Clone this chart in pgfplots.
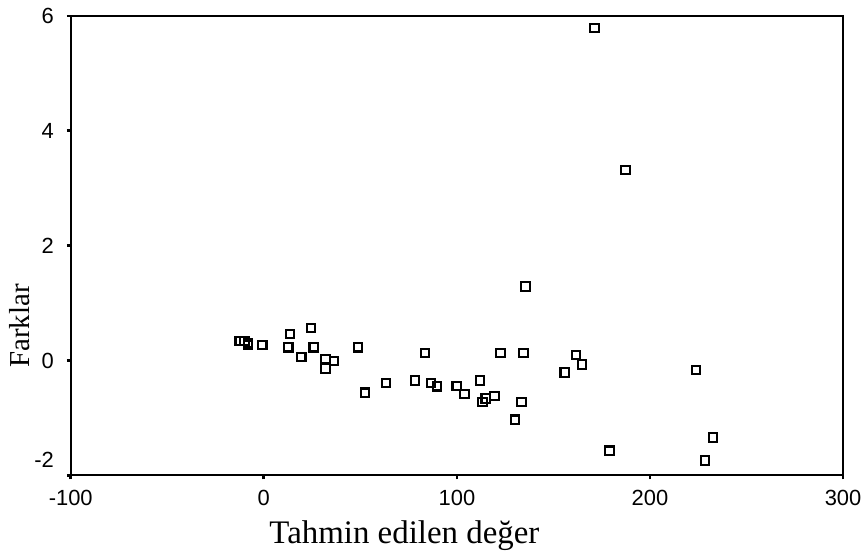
\documentclass[border=0pt]{standalone}
\usepackage{pgfplots}
\pgfplotsset{compat=1.18}
\usepackage{fontspec}
\setmainfont{Liberation Serif}
\newfontfamily\arial{Liberation Sans}
\begin{document}
\begin{tikzpicture}
\begin{axis}[
  scale only axis,
  width=387.5pt, height=230.5pt,
  at={(0,0)}, anchor=south west,
  xmin=-100, xmax=300, ymin=-2, ymax=6,
  axis line style={line width=1pt, black},
  xtick={-100,0,100,200,300},
  xticklabels={-100,0,100,200,300},
  ytick={-2,0,2,4,6},
  yticklabels={,0,2,4,6},
  xtick pos=bottom, ytick pos=left,
  tick align=outside,
  major tick length=2pt,
  tick style={line width=1.4pt, black},
  tick label style={font=\arial\fontsize{11}{13}\selectfont, black},
  xticklabel style={yshift=-2pt},
  yticklabel style={xshift=-3pt},
  xlabel={Tahmin edilen değer},
  ylabel={Farklar},
  xlabel style={font=\fontsize{16.5}{19}\selectfont, at={(axis description cs:0.432,0)}, anchor=north, yshift=-19pt},
  ylabel style={font=\fontsize{14.5}{17}\selectfont, at={(axis description cs:0,0.325)}, anchor=south, yshift=17pt},
  clip=false,
]
\addplot[only marks, mark=square, mark size=2.1pt, mark options={line width=1.05pt, black, fill=white}] coordinates {
(-12.5,0.34) (-10.0,0.34) (-8.1,0.30) (-8.1,0.27) (-0.8,0.27)
(13.5,0.46) (24.5,0.57) (12.7,0.23) (25.8,0.23) (19.4,0.06)
(32,0.02) (36.3,-0.01) (32,-0.14) (48.8,0.23) (52.3,-0.56)
(63.3,-0.39) (83.6,0.13) (78.4,-0.35) (86.5,-0.39) (89.8,-0.45)
(99.9,-0.44) (103.9,-0.58) (112,-0.35) (113.2,-0.72) (114.9,-0.66)
(119.4,-0.62) (122.5,0.13) (134.5,0.13) (133.4,-0.72) (130.2,-1.03)
(135.5,1.29) (155.8,-0.21) (161.8,0.10) (164.8,-0.07) (223.8,-0.17)
(179,-1.57) (232.5,-1.34) (228.6,-1.74) (171.3,5.79) (187.3,3.32)
};
\node[font=\arial\fontsize{11}{13}\selectfont, anchor=east] at (axis cs:-100,-2) [xshift=-5pt, yshift=8pt] {-2};
\end{axis}
\path (-35.5pt,-38pt) rectangle (398.5pt,238.5pt);
\end{tikzpicture}
\end{document}
